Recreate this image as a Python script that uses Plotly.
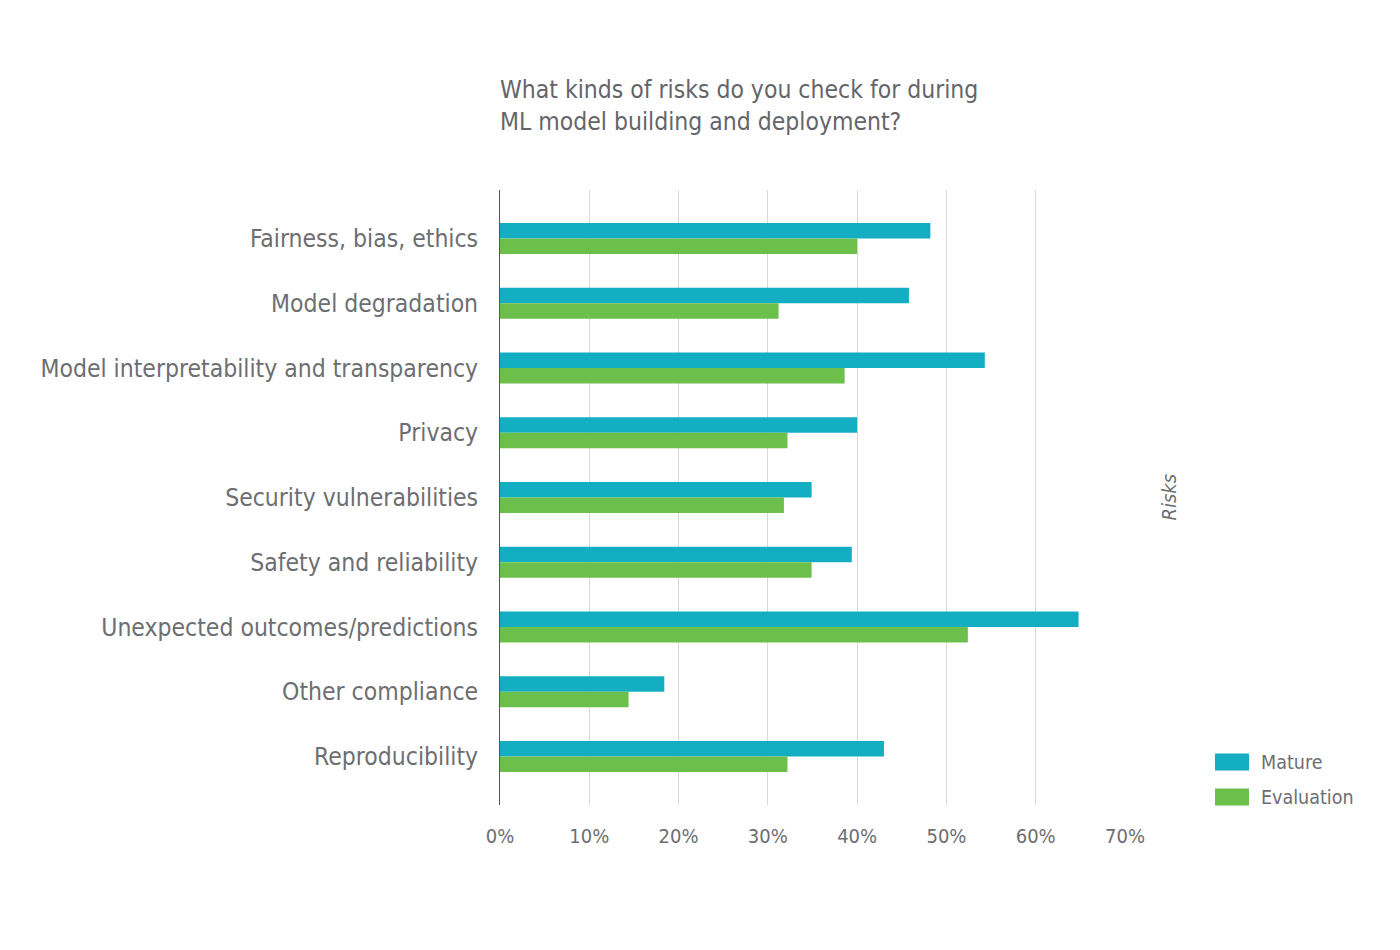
import plotly.graph_objects as go

categories = [
    "Fairness, bias, ethics",
    "Model degradation",
    "Model interpretability and transparency",
    "Privacy",
    "Security vulnerabilities",
    "Safety and reliability",
    "Unexpected outcomes/predictions",
    "Other compliance",
    "Reproducibility",
]
mature = [48.2, 45.8, 54.3, 40.0, 34.9, 39.4, 64.8, 18.4, 43.0]
evaluation = [40.0, 31.2, 38.6, 32.2, 31.8, 34.9, 52.4, 14.4, 32.2]
x_ticks = [0, 10, 20, 30, 40, 50, 60, 70]
x_tick_labels = [f"{v}%" for v in x_ticks]

MATURE_C = "#13aec2"
EVAL_C = "#6cbf4b"
TEXT_C = "#6d6e71"
FONT = "DejaVu Sans Condensed, Liberation Sans Narrow, Roboto, sans-serif"

fig = go.Figure()
fig.add_trace(go.Bar(y=categories, x=mature, orientation="h", name="Mature",
                     marker=dict(color=MATURE_C, line=dict(width=0))))
fig.add_trace(go.Bar(y=categories, x=evaluation, orientation="h", name="Evaluation",
                     marker=dict(color=EVAL_C, line=dict(width=0))))

fig.update_layout(
    width=1400, height=950,
    barmode="group", bargap=0.52, bargroupgap=0,
    showlegend=False,
    paper_bgcolor="white", plot_bgcolor="white",
    margin=dict(l=500, r=275, t=190, b=145),
    font=dict(family=FONT, color=TEXT_C),
    title=dict(
        text="What kinds of risks do you check for during<br>ML model building and deployment?",
        font=dict(size=24.5, color="#646569", family=FONT),
        xref="paper", x=0, xanchor="left",
        yref="container", y=1 - 98 / 950, yanchor="top",
    ),
    xaxis=dict(
        range=[0, 70], tickvals=x_ticks, ticktext=x_tick_labels,
        showgrid=True, gridcolor="#d9d9d9", gridwidth=1,
        zeroline=False, showline=False, automargin=False,
        tickfont=dict(size=20, color=TEXT_C), ticks="", ticklabelstandoff=17,
    ),
    yaxis=dict(
        range=[8.75, -0.75], categoryorder="array", categoryarray=categories,
        showgrid=False, zeroline=False, automargin=False,
        showline=True, linecolor="#555555", linewidth=1,
        tickfont=dict(size=24.5, color=TEXT_C), ticks="", ticklabelstandoff=16,
    ),
)

# Right-side axis caption
fig.add_annotation(text="<i>Risks</i>", xref="paper", yref="paper",
                   x=1 + 57 / 625, y=0.5, textangle=-90, showarrow=False,
                   font=dict(size=20, color=TEXT_C, family=FONT))

# Custom legend
legend_items = [("Mature", MATURE_C), ("Evaluation", EVAL_C)]
for i, (name, col) in enumerate(legend_items):
    yc = 762 + 35 * i
    y_paper = 1 - (yc - 190) / 615
    fig.add_shape(type="rect", xref="paper", yref="paper",
                  x0=(1215 - 500) / 625, x1=(1249 - 500) / 625,
                  y0=y_paper - 8.5 / 615, y1=y_paper + 8.5 / 615,
                  fillcolor=col, line=dict(width=0))
    fig.add_annotation(text=name, xref="paper", yref="paper",
                       x=(1259 - 500) / 625, y=y_paper, xanchor="left", yanchor="middle",
                       showarrow=False, font=dict(size=19.5, color=TEXT_C, family=FONT))

fig.write_html("out.html")
